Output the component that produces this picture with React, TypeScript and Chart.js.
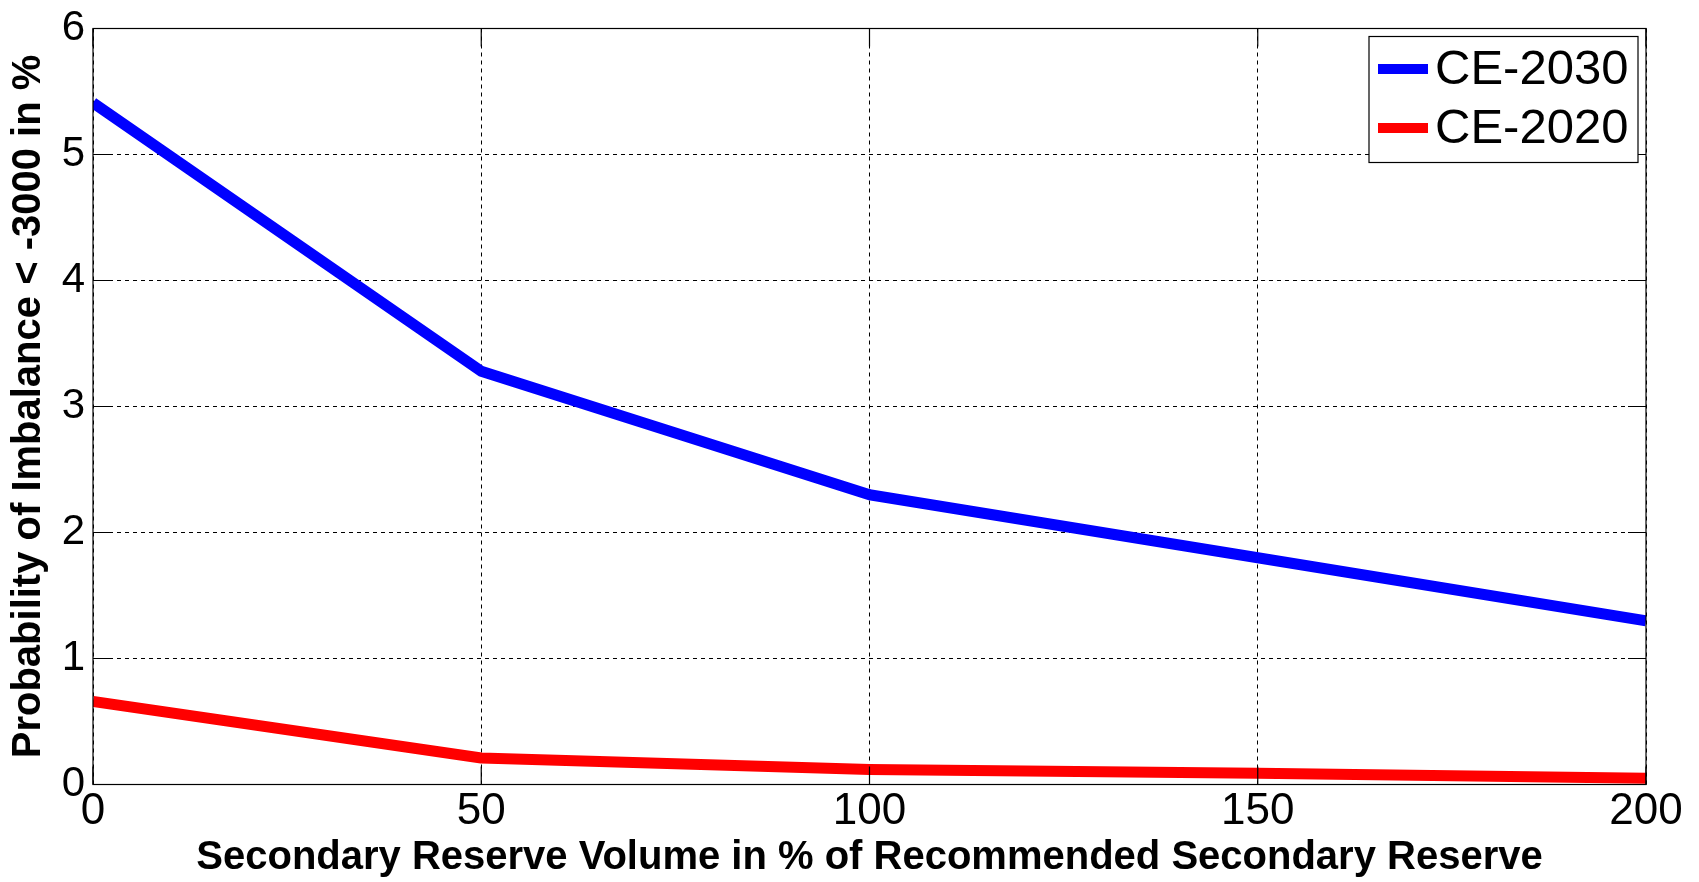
import React, { useEffect, useRef } from "react";
import { Chart, registerables } from "chart.js";

Chart.register(...registerables);

// ---- data ----
const xValues = [0, 50, 100, 150, 200];
const ce2030 = [5.41, 3.28, 2.3, 1.8, 1.3];
const ce2020 = [0.66, 0.21, 0.12, 0.09, 0.05];
const seriesLabels = ["CE-2030", "CE-2020"];
const seriesColors = ["#0000ff", "#ff0000"];
const xTickValues = [0, 50, 100, 150, 200];
const yTickValues = [0, 1, 2, 3, 4, 5, 6];
const xTitle = "Secondary Reserve Volume in % of Recommended Secondary Reserve";
const yTitle = "Probability of Imbalance < -3000 in %";

const FONT = 'Arial, "Liberation Sans", sans-serif';

const framePlugin = {
  id: "frame",
  afterDatasetsDraw(chart: any) {
    const { ctx, chartArea, scales } = chart;
    const { left, right, top, bottom } = chartArea;
    const tl = 18;
    ctx.save();
    ctx.strokeStyle = "#000";
    ctx.lineWidth = 1.2;
    ctx.setLineDash([]);
    ctx.strokeRect(left, top, right - left, bottom - top);
    ctx.beginPath();
    xTickValues.forEach((v) => {
      const px = scales.x.getPixelForValue(v);
      ctx.moveTo(px, bottom);
      ctx.lineTo(px, bottom - tl);
      ctx.moveTo(px, top);
      ctx.lineTo(px, top + tl);
    });
    yTickValues.forEach((v) => {
      const py = scales.y.getPixelForValue(v);
      ctx.moveTo(left, py);
      ctx.lineTo(left + tl, py);
      ctx.moveTo(right, py);
      ctx.lineTo(right - tl, py);
    });
    ctx.stroke();
    ctx.restore();
  },
};

const legendPlugin = {
  id: "insideLegend",
  afterDraw(chart: any) {
    const { ctx, chartArea } = chart;
    const w = 269;
    const h = 126;
    const x0 = chartArea.right - 8 - w;
    const y0 = chartArea.top + 8;
    ctx.save();
    ctx.fillStyle = "#fff";
    ctx.fillRect(x0, y0, w, h);
    ctx.strokeStyle = "#000";
    ctx.lineWidth = 1.2;
    ctx.strokeRect(x0, y0, w, h);
    ctx.font = `49px ${FONT}`;
    ctx.textBaseline = "middle";
    ctx.textAlign = "left";
    chart.data.datasets.forEach((ds: any, i: number) => {
      const cy = y0 + 32.5 + i * 59;
      ctx.strokeStyle = ds.borderColor;
      ctx.lineWidth = 10;
      ctx.beginPath();
      ctx.moveTo(x0 + 9, cy);
      ctx.lineTo(x0 + 59, cy);
      ctx.stroke();
      ctx.fillStyle = "#000";
      ctx.fillText(ds.label, x0 + 66, cy + 1);
    });
    ctx.restore();
  },
};

export default function App() {
  const canvasRef = useRef<HTMLCanvasElement | null>(null);

  useEffect(() => {
    const canvas = canvasRef.current;
    if (!canvas) return;
    Chart.defaults.color = "#000";
    const chart = new Chart(canvas, {
      type: "line",
      data: {
        datasets: [
          {
            label: seriesLabels[0],
            data: xValues.map((x, i) => ({ x, y: ce2030[i] })),
            borderColor: seriesColors[0],
            backgroundColor: seriesColors[0],
            borderWidth: 11,
            pointRadius: 0,
            borderJoinStyle: "round",
            borderCapStyle: "butt",
            tension: 0,
            clip: 0,
          },
          {
            label: seriesLabels[1],
            data: xValues.map((x, i) => ({ x, y: ce2020[i] })),
            borderColor: seriesColors[1],
            backgroundColor: seriesColors[1],
            borderWidth: 11,
            pointRadius: 0,
            borderJoinStyle: "round",
            borderCapStyle: "butt",
            tension: 0,
            clip: 0,
          },
        ],
      },
      options: {
        responsive: false,
        animation: false,
        events: [],
        layout: { padding: { top: 28.5, right: 53, left: 0, bottom: 0 } },
        plugins: {
          legend: { display: false },
          tooltip: { enabled: false },
        },
        scales: {
          x: {
            type: "linear",
            min: 0,
            max: 200,
            afterBuildTicks: (s: any) => {
              s.ticks = xTickValues.map((v) => ({ value: v }));
            },
            afterFit: (s: any) => {
              s.height = 97.5;
              s.paddingLeft = 0;
              s.paddingRight = 0;
            },
            ticks: {
              padding: 1,
              maxRotation: 0,
              autoSkip: false,
              font: { family: FONT, size: 44 },
              color: "#000",
            },
            grid: {
              color: "#000",
              lineWidth: 1,
              drawTicks: false,
              borderDash: [4, 4],
            } as any,
            border: { display: false, dash: [4, 4] },
            title: {
              display: true,
              text: xTitle,
              font: { family: FONT, size: 40, weight: "bold" },
              color: "#000",
              padding: { top: 0, bottom: 0 },
            },
          },
          y: {
            type: "linear",
            min: 0,
            max: 6,
            afterBuildTicks: (s: any) => {
              s.ticks = yTickValues.map((v) => ({ value: v }));
            },
            afterFit: (s: any) => {
              s.width = 93;
              s.paddingTop = 0;
              s.paddingBottom = 0;
            },
            ticks: {
              padding: 8,
              font: { family: FONT, size: 42 },
              color: "#000",
            },
            grid: {
              color: "#000",
              lineWidth: 1,
              drawTicks: false,
              borderDash: [4, 4],
            } as any,
            border: { display: false, dash: [4, 4] },
            title: {
              display: true,
              text: yTitle,
              font: { family: FONT, size: 40, weight: "bold" },
              color: "#000",
              padding: { top: 5, bottom: 0 },
            },
          },
        },
      } as any,
      plugins: [framePlugin, legendPlugin],
    });
    return () => chart.destroy();
  }, []);

  return (
    <div
      style={{
        position: "fixed",
        left: 0,
        top: 0,
        width: 1699,
        height: 882,
        background: "#fff",
      }}
    >
      <canvas
        ref={canvasRef}
        width={1699}
        height={882}
        style={{ width: 1699, height: 882, display: "block" }}
      />
    </div>
  );
}
